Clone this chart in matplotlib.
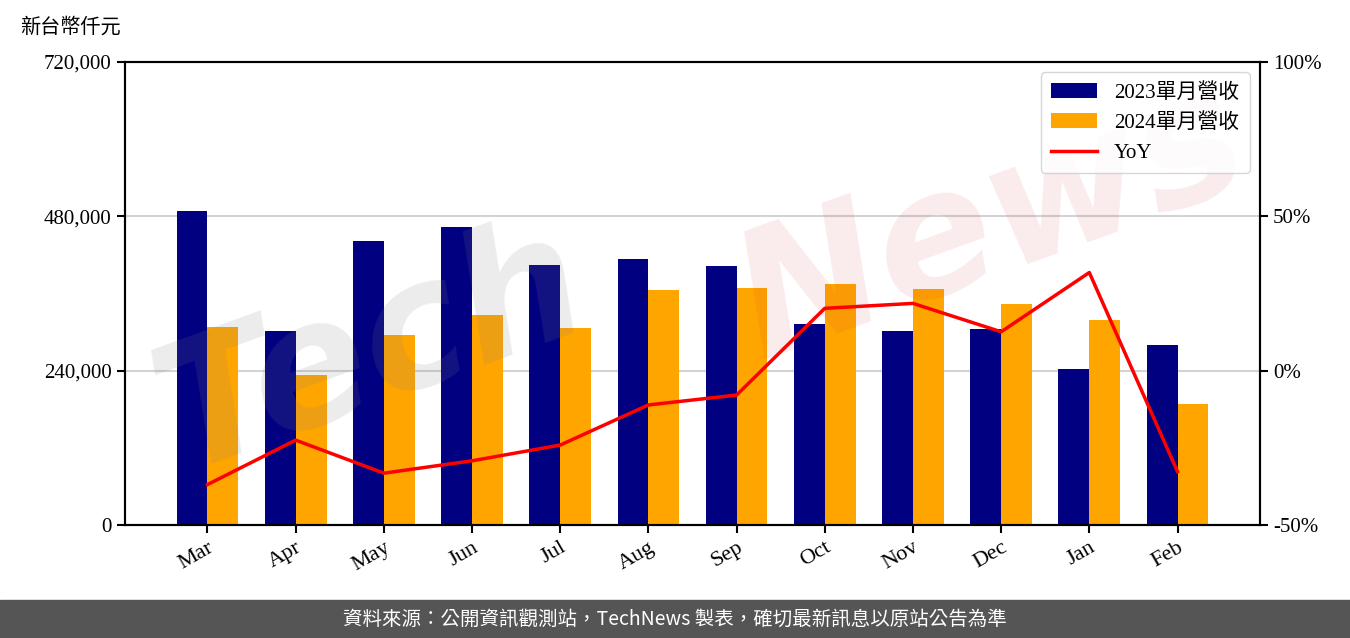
import matplotlib.pyplot as plt
import numpy as np

months = ['Mar', 'Apr', 'May', 'Jun', 'Jul', 'Aug', 'Sep', 'Oct', 'Nov', 'Dec', 'Jan', 'Feb']
rev_2023 = [488000, 302000, 442000, 463000, 404000, 414000, 403000, 313000, 302000, 305000, 243000, 280000]
rev_2024 = [308000, 233000, 295000, 327000, 306000, 365000, 369000, 375000, 367000, 344000, 319000, 188000]
yoy = [-36.9, -22.5, -33.2, -29.2, -24.1, -11.1, -7.9, 20.2, 21.8, 12.6, 31.8, -32.7]

latin = ['Liberation Serif', 'Noto Sans CJK TC']
cjk = ['Noto Sans CJK TC', 'DejaVu Sans']

fig = plt.figure(figsize=(13.5, 6.38), dpi=100)
ax = fig.add_axes([0.0926, 0.1771, 0.8407, 0.7257])

x = np.arange(len(months))
w = 0.35
b1 = ax.bar(x - w / 2, rev_2023, w, color='#000080', label='2023單月營收')
b2 = ax.bar(x + w / 2, rev_2024, w, color='#ffa500', label='2024單月營收')

ax.set_ylim(0, 720000)
ax.set_yticks([0, 240000, 480000, 720000])
ax.set_yticklabels(['{:,}'.format(v) for v in [0, 240000, 480000, 720000]], family=latin, fontsize=15)
ax.grid(axis='y', color='#d3d3d3', linewidth=1.5)
ax.set_axisbelow(True)
ax.set_xticks(x)
ax.set_xticklabels(months, rotation=30, ha='right', family=latin, fontsize=16, rotation_mode='anchor')
ax.tick_params(length=6, width=1.5)
for s in ax.spines.values():
    s.set_linewidth(1.5)

# watermark 浮水印
ax.text(0.01, 0.12, 'Tech', transform=ax.transAxes, fontsize=125, fontstyle='italic',
        fontweight='bold', family='DejaVu Sans', color='gray', alpha=0.15,
        rotation=20, zorder=3, ha='left', va='baseline', clip_on=True)
ax.text(0.52, 0.36, 'News', transform=ax.transAxes, fontsize=125, fontstyle='italic',
        fontweight='bold', family='DejaVu Sans', color='#d04040', alpha=0.1,
        rotation=20, zorder=3, ha='left', va='baseline', clip_on=True)

ax2 = ax.twinx()
l1, = ax2.plot(x, yoy, color='red', linewidth=2.5, label='YoY')
ax2.set_ylim(-50, 100)
ax2.set_yticks([-50, 0, 50, 100])
ax2.set_yticklabels(['-50%', '0%', '50%', '100%'], family=latin, fontsize=15)
ax2.tick_params(length=6, width=1.5)
for s in ax2.spines.values():
    s.set_linewidth(1.5)

leg = ax2.legend(handles=[b1, b2, l1], loc='upper right', prop={'family': latin, 'size': 15},
                 edgecolor='#cccccc', fancybox=True, handlelength=2.2, borderpad=0.5)

fig.text(0.015, 0.957, '新台幣仟元', family=cjk, fontsize=14.5, ha='left', va='center')

fig.patches.append(plt.Rectangle((0, 0), 1, 0.0596, transform=fig.transFigure,
                                 color='#555555', zorder=0))
fig.text(0.5, 0.0298, '資料來源：公開資訊觀測站，TechNews 製表，確切最新訊息以原站公告為準',
         family=cjk, fontsize=14, color='white', ha='center', va='center')

fig.savefig('out.png', dpi=100)
